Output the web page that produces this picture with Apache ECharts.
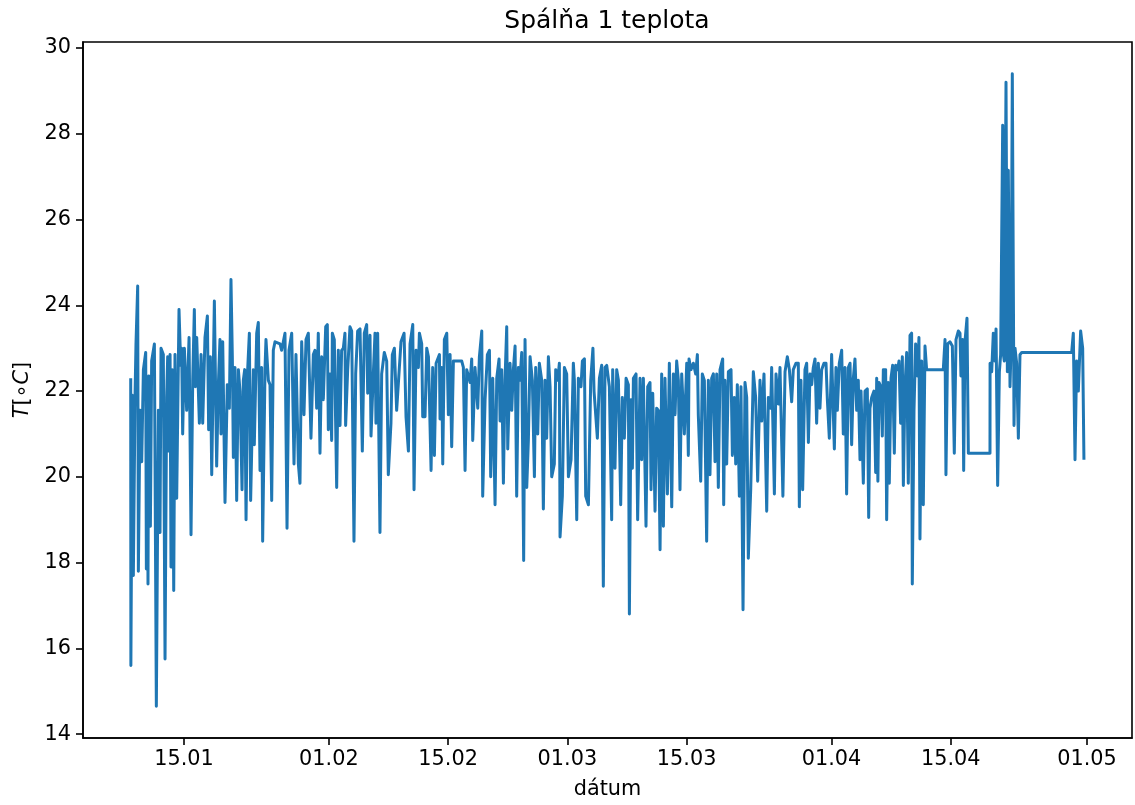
<!DOCTYPE html>
<html>
<head>
<meta charset="utf-8">
<script src="https://cdn.jsdelivr.net/npm/echarts@6/dist/echarts.min.js"></script>
<style>html,body{margin:0;padding:0;background:#fff}#chart{width:1135px;height:805px}</style>
</head>
<body>
<div id="chart"></div>
<script>
// x values: day of year (1 = 01.01), y values: temperature in °C
const january = [[8.74,22.3],[8.76,15.6],[8.93,21.9],[9.05,17.7],[9.25,21.9],[9.36,23.1],[9.56,24.45],[9.64,17.8],[9.83,21.55],[10.03,20.35],[10.23,22.5],[10.5,22.9],[10.58,17.85],[10.7,22.25],[10.77,17.5],[10.85,22.35],[11.05,18.85],[11.2,22.7],[11.52,23.1],[11.75,14.65],[11.99,21.55],[12.18,18.7],[12.3,23.0],[12.57,22.85],[12.77,15.75],[12.96,21.85],[13.08,22.8],[13.2,20.6],[13.36,22.85],[13.47,17.9],[13.63,22.5],[13.79,17.35],[13.94,22.85],[14.14,19.5],[14.41,23.9],[14.61,22.6],[14.72,23.0],[14.84,21.0],[15.04,23.0],[15.31,21.55],[15.59,23.25],[15.82,18.65],[16.02,22.25],[16.21,23.9],[16.33,22.1],[16.49,23.25],[16.8,21.25],[17.0,22.85],[17.19,21.25],[17.46,23.25],[17.74,23.75],[17.89,21.1],[18.09,22.8],[18.25,20.05],[18.56,24.1],[18.83,20.25],[19.03,22.15],[19.22,23.2],[19.34,21.0],[19.54,23.15],[19.81,19.4],[20.08,22.15],[20.32,21.6],[20.51,24.6],[20.67,22.8],[20.79,20.45],[20.98,22.55],[21.18,19.45],[21.38,22.5],[21.57,22.0],[21.81,19.7],[21.96,22.25],[22.12,22.5],[22.28,19.0],[22.47,22.5],[22.67,23.35],[22.82,19.45],[23.14,22.5],[23.25,20.75],[23.53,23.35],[23.72,23.6],[23.92,20.15],[24.11,22.55],[24.23,18.5],[24.51,22.55],[24.62,23.2],[24.9,22.25],[25.09,22.15],[25.29,19.45],[25.48,22.95],[25.68,23.15],[26.27,23.1],[26.46,22.95],[26.85,23.35],[27.09,18.8],[27.32,22.95],[27.64,23.35],[27.91,20.3],[28.14,22.85],[28.42,20.3],[28.61,19.85],[28.81,23.15],[29.08,21.45],[29.32,23.2],[29.59,23.35],[29.9,20.9],[30.18,22.85],[30.37,22.95],[30.57,21.6],[30.76,23.35],[30.96,20.55],[31.16,22.8],[31.35,21.8],[31.63,23.5],[31.82,23.55],[31.94,21.1]];
const february = [[32.13,22.4],[32.33,20.85],[32.41,23.35],[32.64,23.2],[32.92,19.75],[33.11,22.95],[33.31,21.2],[33.5,22.95],[33.7,23.0],[33.89,23.35],[33.97,21.2],[34.21,22.5],[34.48,23.5],[34.68,23.4],[34.95,18.5],[35.15,22.4],[35.38,23.4],[35.66,23.45],[35.93,20.6],[36.16,23.35],[36.44,23.55],[36.56,21.95],[36.83,23.3],[36.95,20.95],[37.22,22.4],[37.42,23.35],[37.53,21.25],[37.73,23.35],[38.0,18.7],[38.2,22.4],[38.51,22.9],[38.79,22.7],[38.98,20.05],[39.29,21.25],[39.45,22.85],[39.69,23.0],[39.96,21.55],[40.23,22.4],[40.47,23.15],[40.83,23.35],[41.06,21.4],[41.34,20.6],[41.53,23.1],[41.85,23.55],[42.0,19.7],[42.24,22.95],[42.51,22.55],[42.63,23.35],[42.9,23.1],[43.02,21.4],[43.29,21.4],[43.49,23.0],[43.69,22.8],[44.0,20.15],[44.19,22.55],[44.39,20.5],[44.59,22.65],[44.78,22.65],[44.98,22.85],[45.05,21.35],[45.25,22.55],[45.37,20.3],[45.56,23.2],[45.84,23.35],[46.03,21.45],[46.23,22.85],[46.42,20.7],[46.62,22.7],[47.6,22.7],[47.79,22.55],[47.99,20.15],[48.18,22.5],[48.58,22.2],[48.77,22.75],[48.89,20.85],[49.16,22.55],[49.48,21.6],[49.67,22.8],[49.95,23.4],[50.06,19.55],[50.34,21.8],[50.61,22.85],[50.85,22.95],[51.0,20.0],[51.24,22.3],[51.51,19.35],[51.71,22.3],[51.98,22.75],[52.1,21.3],[52.29,22.5],[52.49,19.85],[52.68,22.25],[52.88,23.5],[53.0,20.65],[53.27,22.65],[53.47,21.55],[53.66,22.5],[53.86,23.05],[54.05,19.55],[54.25,22.55],[54.44,22.25],[54.64,22.9],[54.87,18.05],[55.03,23.2],[55.23,19.75],[55.42,20.85],[55.62,22.8],[55.89,22.25],[56.13,20.0],[56.28,22.55],[56.52,21.0],[56.71,22.65],[56.99,22.25],[57.18,19.25],[57.38,22.25],[57.57,20.9],[57.77,22.8],[57.97,22.1],[58.16,20.0],[58.47,20.3],[58.63,22.5],[58.87,22.25],[59.06,22.65],[59.14,18.6],[59.41,19.55],[59.65,22.55],[59.92,22.4]];
const march = [[60.12,20.0],[60.43,20.4],[60.7,22.65],[60.82,22.25],[61.1,19.0],[61.29,22.3],[61.6,22.1],[61.76,22.7],[62.0,22.75],[62.15,19.55],[62.47,19.35],[62.74,22.25],[63.0,23.0],[63.13,22.0],[63.25,22.0],[63.52,20.9],[63.76,22.3],[64.03,22.6],[64.22,17.45],[64.42,22.55],[64.62,22.6],[64.93,22.1],[65.2,19.0],[65.32,22.5],[65.59,20.2],[65.79,22.5],[65.99,22.25],[66.26,19.35],[66.45,21.85],[66.69,20.9],[66.89,22.3],[67.16,22.15],[67.28,16.8],[67.47,21.8],[67.63,20.2],[67.75,22.3],[68.06,22.4],[68.25,19.0],[68.53,22.3],[68.72,20.4],[68.92,22.3],[69.23,18.85],[69.43,22.1],[69.7,22.2],[69.82,19.7],[70.02,21.95],[70.29,19.2],[70.48,21.6],[70.68,21.55],[70.88,18.3],[71.07,22.4],[71.27,18.85],[71.46,22.3],[71.74,19.6],[71.97,22.65],[72.25,19.3],[72.44,22.4],[72.64,21.45],[72.83,22.7],[73.03,22.25],[73.22,19.7],[73.42,22.4],[73.73,21.0],[74.01,22.65],[74.2,20.5],[74.28,22.75],[74.51,22.5],[74.79,22.65],[75.06,22.4],[75.26,22.85],[75.37,21.45],[75.65,19.9],[75.84,22.4],[76.08,22.25],[76.35,18.5],[76.55,22.25],[76.74,20.05],[76.94,22.3],[77.14,22.4],[77.33,20.35],[77.53,22.4],[77.72,19.75],[77.92,22.5],[78.23,22.75],[78.35,19.35],[78.5,22.25],[78.7,20.3],[78.9,22.45],[79.21,22.5],[79.37,20.5],[79.6,21.85],[79.76,20.3],[79.95,22.15],[80.19,19.55],[80.38,22.1],[80.62,16.9],[80.85,22.2],[81.05,21.85],[81.24,18.1],[81.52,19.7],[81.83,22.45],[82.1,21.85],[82.34,19.9],[82.61,22.25],[82.81,21.3],[83.08,22.4],[83.4,19.2],[83.59,21.85],[83.87,21.6],[83.98,22.55],[84.3,19.6],[84.49,22.4],[84.77,21.7],[84.96,22.55],[85.3,19.55],[85.55,22.45],[85.82,22.8],[86.06,22.5],[86.33,21.75],[86.52,22.5],[86.84,22.65],[87.11,22.65],[87.23,19.3],[87.42,22.25],[87.62,19.7],[87.89,22.5],[88.09,22.65],[88.29,20.8],[88.48,22.4],[88.68,22.15],[88.87,22.55],[89.07,22.75],[89.26,21.25],[89.46,22.65],[89.65,21.6],[89.85,22.5],[90.12,22.65],[90.36,22.65],[90.52,21.8],[90.75,20.9]];
const april = [[91.02,22.85],[91.22,22.85],[91.34,20.65],[91.53,22.55],[91.69,21.55],[91.92,22.65],[92.2,22.95],[92.39,21.0],[92.59,22.55],[92.78,19.6],[92.98,22.55],[93.18,22.65],[93.37,20.75],[93.57,22.3],[93.76,22.75],[93.96,21.55],[94.15,22.25],[94.35,20.4],[94.47,22.0],[94.74,19.85],[94.94,22.0],[95.21,22.05],[95.37,19.05],[95.52,21.6],[95.72,21.85],[95.99,22.0],[96.19,20.1],[96.31,22.3],[96.45,19.9],[96.58,22.2],[96.81,22.1],[96.97,20.95],[97.09,22.5],[97.36,22.5],[97.48,19.0],[97.67,22.2],[97.79,19.85],[97.99,22.3],[98.18,22.6],[98.38,20.55],[98.54,22.6],[98.77,22.5],[98.93,22.7],[99.12,21.25],[99.32,22.8],[99.44,19.8],[99.63,22.1],[99.83,22.9],[100.02,19.85],[100.22,23.3],[100.41,23.35],[100.49,17.5],[100.69,21.55],[100.88,23.1],[101.12,22.35],[101.27,23.25],[101.39,18.55],[101.59,22.7],[101.78,19.35],[101.98,23.05],[102.17,22.5],[104.13,22.5],[104.33,23.2],[104.44,20.05],[104.64,23.1],[104.91,23.15],[105.19,23.05],[105.42,20.55],[105.62,23.2],[105.89,23.4],[106.09,23.35],[106.2,22.35],[106.4,23.2],[106.52,20.15],[106.67,23.15],[106.91,23.7],[107.07,20.55],[109.61,20.55],[109.62,22.65],[109.81,22.45],[110.0,23.35],[110.2,22.7],[110.32,23.45],[110.51,19.8],[110.71,22.45],[110.86,22.85],[111.1,28.2],[111.18,22.85],[111.29,22.7],[111.49,29.2],[111.65,22.45],[111.76,27.15],[111.96,22.1],[112.08,23.0],[112.23,29.4],[112.43,21.2],[112.55,23.0],[112.74,22.65],[112.94,20.9],[113.13,22.85],[113.33,22.9],[119.2,22.9],[119.39,23.35],[119.59,20.4],[119.78,22.7],[119.98,22.0],[120.25,23.4],[120.49,23.0],[120.64,20.4]];

const xTickDays = [15, 32, 46, 60, 74, 91, 105, 121];
const xTickLabels = ['15.01', '01.02', '15.02', '01.03', '15.03', '01.04', '15.04', '01.05'];
const yTicks = [14, 16, 18, 20, 22, 24, 26, 28, 30];

const series = january.concat(february, march, april);
const font = 'DejaVu Sans';
const chart = echarts.init(document.getElementById('chart'), null, {renderer: 'canvas'});
chart.setOption({
  animation: false,
  backgroundColor: '#fff',
  title: {
    text: 'Spálňa 1 teplota', left: 607, textAlign: 'center', top: 9, padding: 0,
    textStyle: {fontFamily: font, fontSize: 25, fontWeight: 'normal', color: '#000'}
  },
  grid: {left: 83, right: 3, top: 42, bottom: 67, show: true, borderColor: '#000', borderWidth: 1.6, backgroundColor: 'transparent'},
  xAxis: {
    type: 'value', min: 3.14, max: 126.28,
    name: 'dátum', nameLocation: 'middle', nameGap: 41,
    nameTextStyle: {fontFamily: font, fontSize: 20.8, color: '#000'},
    axisLine: {show: true, onZero: false, lineStyle: {color: '#000', width: 1.6}},
    axisTick: {show: true, length: 7, customValues: xTickDays, lineStyle: {color: '#000', width: 1.6}},
    axisLabel: {
      customValues: xTickDays, margin: 11, fontFamily: font, fontSize: 20.8, color: '#000',
      formatter: v => { const i = xTickDays.indexOf(v); return i >= 0 ? xTickLabels[i] : ''; }
    },
    splitLine: {show: false}
  },
  yAxis: {
    type: 'value', min: 13.91, max: 30.14,
    name: '{it|T}[∘{it|C}]', nameLocation: 'middle', nameGap: 50, nameRotate: 90,
    nameTextStyle: {fontFamily: font, fontSize: 20.8, color: '#000', rich: {it: {fontStyle: 'italic', fontFamily: font, fontSize: 20.8, color: '#000'}}},
    axisLine: {show: true, onZero: false, lineStyle: {color: '#000', width: 1.6}},
    axisTick: {show: true, length: 7, customValues: yTicks, lineStyle: {color: '#000', width: 1.6}},
    axisLabel: {customValues: yTicks, margin: 12, fontFamily: font, fontSize: 20.8, color: '#000'},
    splitLine: {show: false}
  },
  series: [{
    type: 'line', data: series, showSymbol: false, symbol: 'none',
    lineStyle: {color: '#1f77b4', width: 3, join: 'round'},
    sampling: null, clip: true
  }]
});
</script>
</body>
</html>
